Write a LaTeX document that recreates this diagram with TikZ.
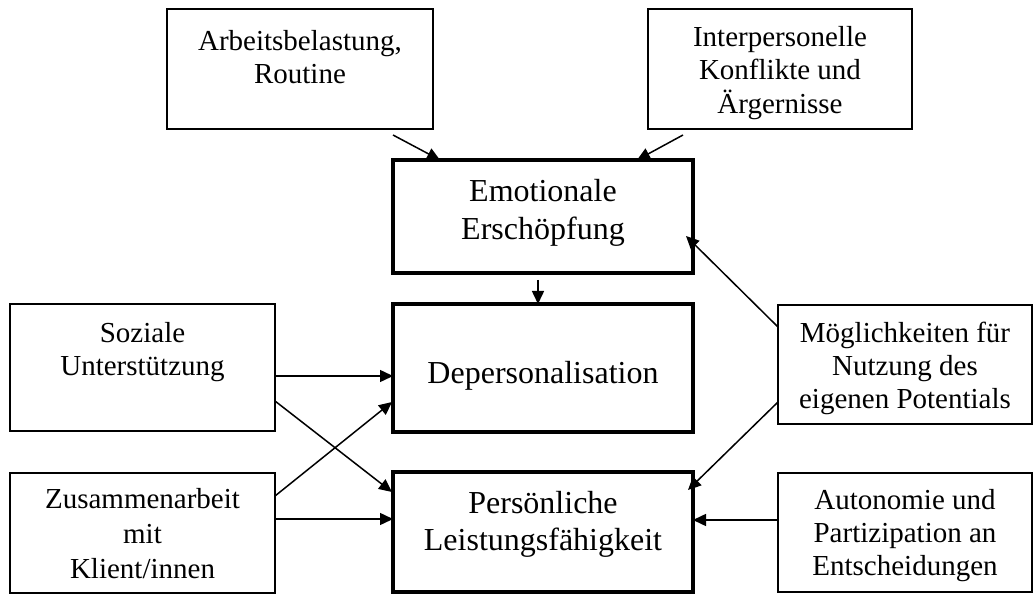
\documentclass[tikz,border=0pt]{standalone}
\usepackage{fontspec}
\setmainfont{Liberation Serif}
\usetikzlibrary{arrows.meta,calc}
\newcommand{\mlines}[1]{\begin{tabular}[t]{@{}c@{}}#1\end{tabular}}
\begin{document}
\begin{tikzpicture}[x=1pt,y=-1pt,
  box/.style={draw,line width=1.5pt,rectangle,inner sep=0pt,outer sep=0pt},
  mainbox/.style={draw,line width=4pt,rectangle,inner sep=0pt,outer sep=0pt},
  smalltxt/.style={anchor=base,inner sep=0pt,font=\fontsize{29}{33}\selectfont},
  bigtxt/.style={anchor=base,inner sep=0pt,font=\fontsize{32}{37.5}\selectfont},
  arr/.style={line width=1.5pt,-{Triangle[length=13pt,width=12pt]}}]
\useasboundingbox (0,0) rectangle (1034,596);
\fill[white] (0,0) rectangle (1034,596);
% boxes
\node[box,minimum width=266pt,minimum height=120pt] (arb) at (300,69) {};
\node[box,minimum width=264pt,minimum height=120pt] (inter) at (780,69) {};
\node[mainbox,minimum width=300pt,minimum height=113pt] (emo) at (543,216.5) {};
\node[mainbox,minimum width=300pt,minimum height=128pt] (dep) at (543,368) {};
\node[mainbox,minimum width=300pt,minimum height=120pt] (per) at (543,532) {};
\node[box,minimum width=265pt,minimum height=127pt] (soz) at (142.5,367.5) {};
\node[box,minimum width=265pt,minimum height=120pt] (zus) at (142.5,533) {};
\node[box,minimum width=254pt,minimum height=119pt] (moe) at (905,364.5) {};
\node[box,minimum width=254pt,minimum height=119pt] (aut) at (905,532.5) {};
% texts
\node[smalltxt] (arbt) at (300,51) {\mlines{Arbeitsbelastung,\\Routine}};
\node[smalltxt] (intert) at (780,47) {\mlines{Interpersonelle\\Konflikte und\\Ärgernisse}};
\node[bigtxt] (emot) at (543,202) {\mlines{Emotionale\\Erschöpfung}};
\node[bigtxt] (dept) at (543,383) {Depersonalisation};
\node[bigtxt] (pert) at (543,513) {\mlines{Persönliche\\Leistungsfähigkeit}};
\node[smalltxt] (sozt) at (142.5,342) {\mlines{Soziale\\Unterstützung}};
\node[smalltxt,font=\fontsize{29}{35}\selectfont] (zust) at (142.5,508) {\mlines{Zusammenarbeit\\mit\\Klient/innen}};
\node[smalltxt] (moet) at (905,342) {\mlines{Möglichkeiten für\\Nutzung des\\eigenen Potentials}};
\node[smalltxt] (autt) at (905,509) {\mlines{Autonomie und\\Partizipation an\\Entscheidungen}};
% arrows
\draw[arr] ($(arb.south east)+(-40,6)$) -- ($(emo.north west)+(47,0)$);
\draw[arr] ($(inter.south west)+(35,6)$) -- ($(emo.north east)+(-56,0)$);
\draw[arr] ($(emo.south)+(-5,7)$) -- ($(dep.north)+(-5,0)$);
\draw[arr] ($(soz.east)+(0,8.5)$) -- ($(dep.west)+(0,8)$);
\draw[arr] ($(soz.east)+(0,33.5)$) -- ($(per.north west)+(-1,20)$);
\draw[arr] ($(zus.east)+(0,-37)$) -- ($(dep.south west)+(-1,-30)$);
\draw[arr] ($(zus.east)+(0,-14)$) -- ($(per.west)+(0,-13)$);
\draw[arr] ($(moe.west)+(0,-37.5)$) -- ($(emo.east)+(-7,19.5)$);
\draw[arr] ($(moe.west)+(0,37.5)$) -- ($(per.north east)+(-5,18)$);
\draw[arr] ($(aut.west)+(0,-12.5)$) -- ($(per.east)+(0,-12)$);
\end{tikzpicture}
\end{document}
